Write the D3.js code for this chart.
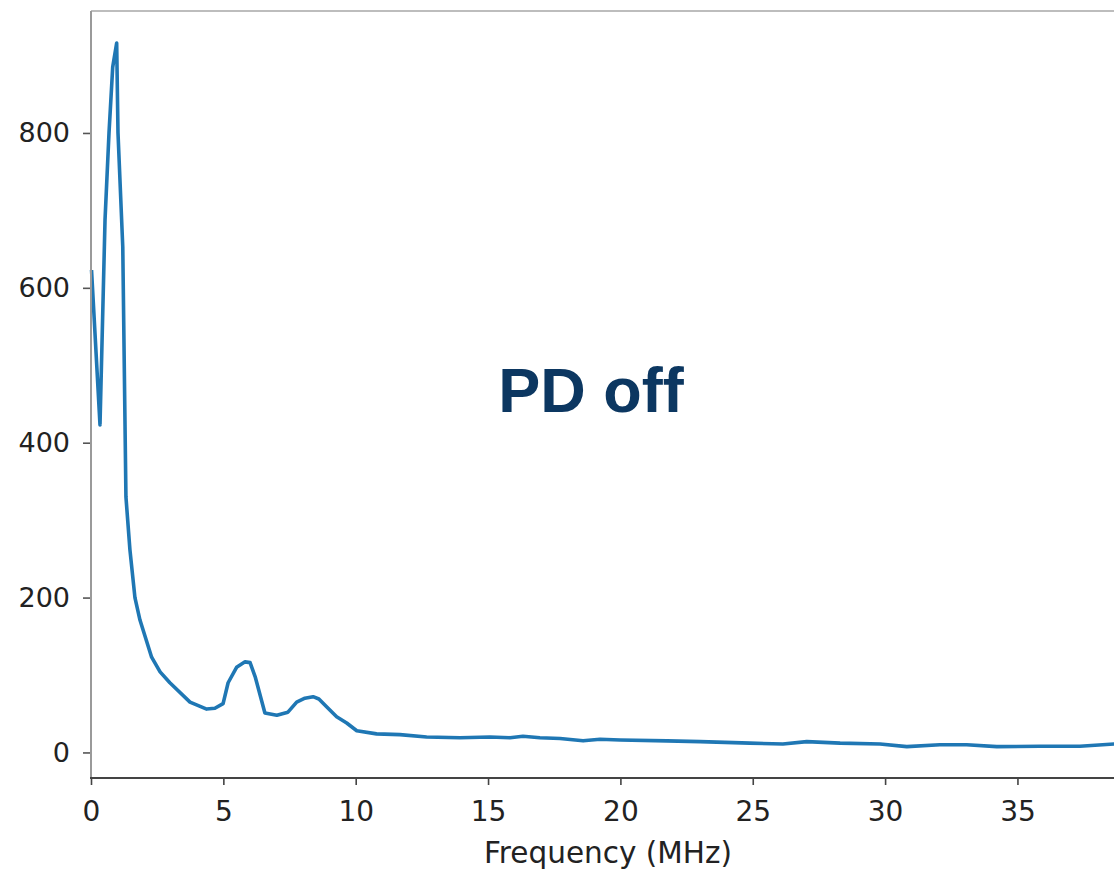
<!DOCTYPE html>
<html>
<head>
<meta charset="utf-8">
<script src="https://cdn.jsdelivr.net/npm/d3@7"></script>
<style>
  html, body { margin: 0; padding: 0; background: #fff; overflow: hidden; }
  svg { display: block; }
</style>
</head>
<body>
<div id="chart"></div>
<script>
const freqMHz = [
  0.02, 0.34, 0.53, 0.68, 0.82, 0.97, 1.02, 1.20, 1.32, 1.47, 1.66, 1.85,
  2.29, 2.61, 2.98, 3.74, 4.37, 4.68, 4.99, 5.18, 5.50, 5.82, 6.01, 6.20,
  6.57, 7.02, 7.44, 7.77, 8.08, 8.39, 8.61, 8.90, 9.28, 9.66, 10.04, 10.79,
  11.67, 12.68, 13.94, 15.07, 15.83, 16.32, 16.96, 17.72, 18.59, 19.23, 19.99,
  21.76, 23.01, 24.89, 26.14, 27.04, 28.30, 29.81, 30.82, 32.07, 33.08, 34.22,
  35.85, 37.36, 38.65, 39.5
];
const amplitude = [
  623, 423, 688, 800, 885, 916, 800, 653, 330, 262, 200, 171,
  123, 104, 90, 65, 56, 57, 63, 90, 110, 117, 116, 98,
  51, 48, 52, 65, 70, 72, 69, 59, 46, 38, 28, 24,
  23, 20, 19, 20, 19, 21, 19, 18, 15, 17, 16,
  15, 14, 12, 11, 14, 12, 11, 7.5, 10, 10, 7.5,
  8, 8, 11, 10
];
const xTicks = [0, 5, 10, 15, 20, 25, 30, 35];
const yTicks = [0, 200, 400, 600, 800];
const xLabel = 'Frequency (MHz)';
const overlayText = 'PD off';

function drawChart() {
    const width = 1114;
    const height = 872;
    const left = 91, top = 11, bottom = 778;

    const svg = d3.select('#chart').append('svg')
        .attr('width', width)
        .attr('height', height);

    const x = d3.scaleLinear()
        .domain([0, 40])
        .range([left, left + 40 * 26.47]);

    const y = d3.scaleLinear()
        .domain([-33, 957.5])
        .range([bottom, top]);

    const data = freqMHz.map((f, i) => ({ f: f, v: amplitude[i] }));

    // Borde superior
    svg.append('line')
        .attr('x1', left).attr('x2', width)
        .attr('y1', top).attr('y2', top)
        .attr('stroke', '#bdbdbd')
        .attr('stroke-width', 2);

    // Curva
    const line = d3.line()
        .x(d => x(d.f))
        .y(d => y(d.v));

    svg.append('path')
        .datum(data)
        .attr('fill', 'none')
        .attr('stroke', '#1f77b4')
        .attr('stroke-width', 3.6)
        .attr('stroke-linejoin', 'round')
        .attr('d', line);

    // Eje Y
    const yAxis = svg.append('g')
        .attr('transform', `translate(${left},0)`)
        .call(d3.axisLeft(y).tickValues(yTicks).tickSize(8).tickPadding(13));
    yAxis.select('.domain').remove();
    yAxis.selectAll('.tick line').attr('stroke', '#555').attr('stroke-width', 1.6);
    yAxis.selectAll('text')
        .attr('fill', '#222')
        .style('font-family', 'DejaVu Sans')
        .style('font-size', '27px');

    svg.append('line')
        .attr('x1', left).attr('x2', left)
        .attr('y1', top).attr('y2', bottom)
        .attr('stroke', '#9a9a9a')
        .attr('stroke-width', 2);

    // Eje X
    const xAxis = svg.append('g')
        .attr('transform', `translate(0,${bottom})`)
        .call(d3.axisBottom(x).tickValues(xTicks).tickSize(7).tickPadding(16));
    xAxis.select('.domain').remove();
    xAxis.selectAll('.tick line').attr('stroke', '#444').attr('stroke-width', 1.6);
    xAxis.selectAll('text')
        .attr('fill', '#222')
        .style('font-family', 'DejaVu Sans')
        .style('font-size', '28px');

    svg.append('line')
        .attr('x1', left - 1).attr('x2', width)
        .attr('y1', bottom).attr('y2', bottom)
        .attr('stroke', '#444')
        .attr('stroke-width', 2);

    // Título del eje
    svg.append('text')
        .attr('x', 608)
        .attr('y', 863)
        .attr('text-anchor', 'middle')
        .attr('fill', '#222')
        .style('font-family', 'DejaVu Sans')
        .style('font-size', '29.5px')
        .text(xLabel);

    // Texto superpuesto
    svg.append('text')
        .attr('x', 591)
        .attr('y', 412)
        .attr('text-anchor', 'middle')
        .attr('fill', '#0c3761')
        .style('font-family', 'Liberation Sans')
        .style('font-weight', 'bold')
        .style('font-size', '63px')
        .text(overlayText);
}

drawChart();
</script>
</body>
</html>
